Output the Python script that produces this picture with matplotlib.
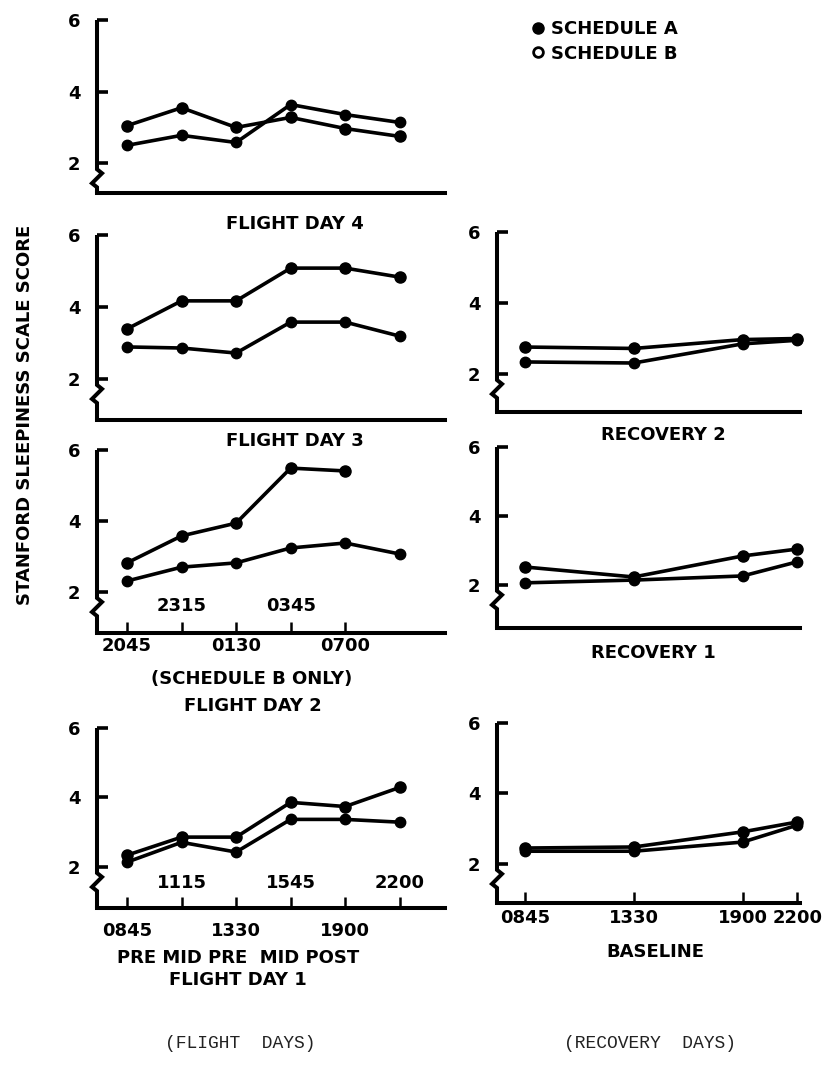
import numpy as np
import matplotlib
matplotlib.use("Agg")
import matplotlib.pyplot as plt
from matplotlib.lines import Line2D

# ---------------- data ----------------
flight_pos = [0, 1, 2, 3, 4, 5]
recovery_pos = [0, 2, 4, 5]

fd4_a = [3.05, 3.55, 3.00, 3.28, 2.97, 2.75]
fd4_b = [2.50, 2.78, 2.58, 3.64, 3.36, 3.14]
fd3_a = [3.39, 4.17, 4.17, 5.08, 5.08, 4.83]
fd3_b = [2.89, 2.86, 2.72, 3.58, 3.58, 3.19]
fd2_a = [2.82, 3.58, 3.94, 5.49, 5.41, np.nan]
fd2_b = [2.31, 2.70, 2.82, 3.24, 3.38, 3.07]
fd1_a = [2.34, 2.86, 2.86, 3.86, 3.74, 4.29]
fd1_b = [2.14, 2.71, 2.43, 3.37, 3.37, 3.29]

r2_a = [2.76, 2.72, 2.97, 3.00]
r2_b = [2.34, 2.31, 2.85, 2.95]
r1_a = [2.52, 2.23, 2.84, 3.04]
r1_b = [2.06, 2.14, 2.26, 2.67]
bl_a = [2.45, 2.48, 2.91, 3.19]
bl_b = [2.36, 2.36, 2.62, 3.10]

fd2_ticks_below = ["2045", "", "0130", "", "0700"]
fd2_ticks_above = ["", "2315", "", "0345", ""]
fd1_ticks_below = ["0845", "", "1330", "", "1900", ""]
fd1_ticks_above = ["", "1115", "", "1545", "", "2200"]
bl_ticks = ["0845", "1330", "1900", "2200"]
y_ticks = [2, 4, 6]

# ---------------- figure ----------------
W, H = 831, 1079
fig = plt.figure(figsize=(W / 100, H / 100), dpi=100)
FONT = dict(family="DejaVu Sans", weight="bold")
FS = 13
LW = 2.6


def add_axes(x0, x1, ytop, ybot, ylo, xlim):
    ax = fig.add_axes([x0 / W, 1 - ybot / H, (x1 - x0) / W, (ybot - ytop) / H])
    ax.set_ylim(ylo, 6.0)
    ax.set_xlim(*xlim)
    for s in ("top", "right", "left"):
        ax.spines[s].set_visible(False)
    ax.spines["bottom"].set_linewidth(LW + 0.3)
    ax.set_yticks(y_ticks)
    ax.set_yticklabels([str(t) for t in y_ticks], fontsize=FS, **FONT)
    ax.tick_params(axis="y", direction="in", length=8, width=LW, pad=12)
    ax.tick_params(axis="x", direction="in", length=8, width=1.8)
    ax.set_xticks([])
    ax.patch.set_alpha(0)
    # left spine with axis break
    wpx, hpx = (x1 - x0), (ybot - ytop)
    fx = lambda d: d / wpx
    fy = lambda d: 1 - d / hpx
    y2 = (6 - 2) / (6 - ylo) * hpx  # px from top to value 2
    pts_x = [0, 0, fx(5), fx(-5), 0, 0]
    pts_y = [1, fy(y2 + 6), fy(y2 + 10), fy(y2 + 20), fy(y2 + 24), 0]
    ax.plot(pts_x, pts_y, transform=ax.transAxes, color="black", lw=LW + 0.3,
            clip_on=False, solid_capstyle="butt", solid_joinstyle="miter")
    return ax


def draw(ax, xs, a, b):
    ax.plot(xs, a, "-o", color="black", lw=LW, ms=8, clip_on=False)
    ax.plot(xs, b, "-o", color="black", lw=LW, ms=7.5, clip_on=False)


xl_left = (-0.55, 5.83)
xl_right = (-0.51, 5.05)

ax4 = add_axes(97, 445, 20, 193, 1.17, xl_left)
draw(ax4, flight_pos, fd4_a, fd4_b)

ax3 = add_axes(97, 445, 235, 420, 0.86, xl_left)
draw(ax3, flight_pos, fd3_a, fd3_b)

ax2 = add_axes(97, 445, 450, 633, 0.845, xl_left)
draw(ax2, flight_pos, fd2_a, fd2_b)
ax2.set_xticks(flight_pos[:5])
ax2.set_xticklabels(fd2_ticks_below, fontsize=FS, **FONT)
ax2.tick_params(axis="x", pad=3)
for x, lab in zip(flight_pos, fd2_ticks_above):
    if lab:
        ax2.text(x, 0.145, lab, transform=ax2.get_xaxis_transform(),
                 ha="center", va="center", fontsize=FS, **FONT)

ax1 = add_axes(97, 445, 728, 908, 0.82, xl_left)
draw(ax1, flight_pos, fd1_a, fd1_b)
ax1.set_xticks(flight_pos)
ax1.set_xticklabels(fd1_ticks_below, fontsize=FS, **FONT)
ax1.tick_params(axis="x", pad=10)
for x, lab in zip(flight_pos, fd1_ticks_above):
    if lab:
        ax1.text(x, 0.14, lab, transform=ax1.get_xaxis_transform(),
                 ha="center", va="center", fontsize=FS, **FONT)

axr2 = add_axes(497, 800, 232, 412, 0.93, xl_right)
draw(axr2, recovery_pos, r2_a, r2_b)

axr1 = add_axes(497, 800, 447, 628, 0.75, xl_right)
draw(axr1, recovery_pos, r1_a, r1_b)

axbl = add_axes(497, 800, 723, 903, 0.89, xl_right)
draw(axbl, recovery_pos, bl_a, bl_b)
axbl.set_xticks(recovery_pos)
axbl.set_xticklabels(bl_ticks, fontsize=FS, **FONT)
axbl.tick_params(axis="x", pad=4)


def ftext(x, y, s, **kw):
    fig.text(x / W, 1 - y / H, s, ha="center", va="center", fontsize=FS, **FONT, **kw)


ftext(295, 224, "FLIGHT DAY 4")
ftext(295, 441, "FLIGHT DAY 3")
ftext(252, 679, "(SCHEDULE B ONLY)")
ftext(253, 706, "FLIGHT DAY 2")
ftext(238, 958, "PRE MID PRE  MID POST")
ftext(238, 980, "FLIGHT DAY 1")
ftext(663, 435, "RECOVERY 2")
ftext(653, 653, "RECOVERY 1")
ftext(655, 952, "BASELINE")
ftext(25, 415, "STANFORD SLEEPINESS SCALE SCORE", rotation=90)

fig.text(240 / W, 1 - 1043 / H, "(FLIGHT  DAYS)", ha="center", va="center",
         fontsize=13, family="Liberation Mono", color="#222222")
fig.text(650 / W, 1 - 1043 / H, "(RECOVERY  DAYS)", ha="center", va="center",
         fontsize=13, family="Liberation Mono", color="#222222")

handles = [Line2D([], [], marker="o", ls="", color="black", ms=8),
           Line2D([], [], marker="o", ls="", mfc="white", mec="black", mew=2, ms=7)]
fig.legend(handles, ["SCHEDULE A", "SCHEDULE B"], loc="upper left",
           bbox_to_anchor=(515 / W, 1 - 4 / H), frameon=False, handletextpad=0.3,
           handlelength=0.8, labelspacing=0.35, prop=dict(size=FS, **FONT))

fig.savefig("out.png", dpi=100)
